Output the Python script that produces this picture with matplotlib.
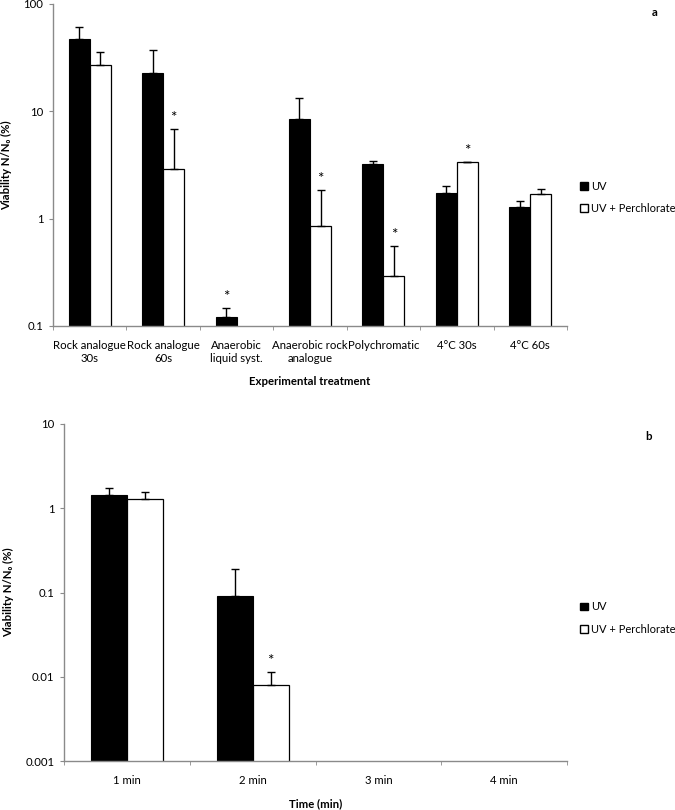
import numpy as np
import matplotlib
matplotlib.use("Agg")
import matplotlib.pyplot as plt
from matplotlib.patches import Patch

plt.rcParams['font.family'] = ['Lato', 'DejaVu Sans']

# Panel a data
CATS_A = ["Rock analogue\n30s", "Rock analogue\n60s", "Anaerobic\nliquid syst.",
          "Anaerobic rock\nanalogue", "Polychromatic", "4°C 30s", "4°C 60s"]
UV_A = [47, 22.6, 0.122, 8.4, 3.2, 1.72, 1.28]
UV_ERR_A = [14, 14.5, 0.026, 4.8, 0.27, 0.31, 0.17]
PERC_A = [26.9, 2.93, np.nan, 0.86, 0.293, 3.34, 1.71]
PERC_ERR_A = [8.7, 3.9, np.nan, 1.0, 0.26, 0.04, 0.2]
STAR_UV_A = [False, False, True, False, False, False, False]
STAR_PERC_A = [False, True, False, True, True, True, False]
YTICKS_A = [0.1, 1, 10, 100]
YTICKLABELS_A = ["0.1", "1", "10", "100"]

# Panel b data
CATS_B = ["1 min", "2 min", "3 min", "4 min"]
UV_B = [1.42, 0.091, np.nan, np.nan]
UV_ERR_B = [0.33, 0.098, np.nan, np.nan]
PERC_B = [1.30, 0.008, np.nan, np.nan]
PERC_ERR_B = [0.27, 0.0034, np.nan, np.nan]
STAR_UV_B = [False, False, False, False]
STAR_PERC_B = [False, True, False, False]
YTICKS_B = [0.001, 0.01, 0.1, 1, 10]
YTICKLABELS_B = ["0.001", "0.01", "0.1", "1", "10"]

AXIS_GREY = "#8a8a8a"
FS = 8.2
BW = 0.286


def draw_panel(ax, cats, uv, uv_err, perc, perc_err, star_uv, star_perc, yticks, yticklabels):
    x = np.arange(len(cats))
    ax.bar(x - BW / 2, uv, BW, color="black", edgecolor="black", linewidth=0.8, zorder=2)
    ax.bar(x + BW / 2, perc, BW, color="white", edgecolor="black", linewidth=0.9, zorder=2)
    zeros = np.zeros(len(cats))
    ax.errorbar(x - BW / 2, uv, yerr=[zeros, uv_err], fmt="none", ecolor="black",
                elinewidth=1, capsize=3, capthick=1, zorder=3)
    ax.errorbar(x + BW / 2, perc, yerr=[zeros, perc_err], fmt="none", ecolor="black",
                elinewidth=1, capsize=3, capthick=1, zorder=3)
    for i in range(len(cats)):
        if star_uv[i]:
            ax.annotate("*", (x[i] - BW / 2, uv[i] + uv_err[i]), xytext=(0, 3),
                        textcoords="offset points", ha="center", va="bottom", fontsize=11)
        if star_perc[i]:
            ax.annotate("*", (x[i] + BW / 2, perc[i] + perc_err[i]), xytext=(0, 3),
                        textcoords="offset points", ha="center", va="bottom", fontsize=11)

    ax.set_yscale("log")
    ax.set_ylim(yticks[0], yticks[-1])
    ax.set_yticks(yticks, yticklabels)
    ax.yaxis.set_minor_locator(matplotlib.ticker.NullLocator())
    ax.set_xlim(-0.5, len(cats) - 0.5)
    ax.set_xticks(x, cats)
    ax.set_xticks(np.arange(len(cats) + 1) - 0.5, minor=True)
    ax.tick_params(axis="x", which="major", length=0, pad=10, labelsize=FS)
    ax.tick_params(axis="x", which="minor", length=3, direction="out", color=AXIS_GREY)
    ax.tick_params(axis="y", length=3, direction="out", color=AXIS_GREY, labelsize=FS, pad=4)
    for s in ["top", "right"]:
        ax.spines[s].set_visible(False)
    for s in ["left", "bottom"]:
        ax.spines[s].set_color(AXIS_GREY)
        ax.spines[s].set_linewidth(1)


fig = plt.figure(figsize=(6.75, 8.1), dpi=100)

ax_a = fig.add_axes([53 / 675, 1 - 326 / 810, 514 / 675, 322 / 810])
draw_panel(ax_a, CATS_A, UV_A, UV_ERR_A, PERC_A, PERC_ERR_A, STAR_UV_A, STAR_PERC_A,
           YTICKS_A, YTICKLABELS_A)
ax_a.set_xlabel("Experimental treatment", fontsize=FS, fontweight="bold")
ax_a.xaxis.set_label_coords(0.5, -0.155)
ax_a.set_ylabel("Viability N/N₀ (%)", fontsize=FS, fontweight="bold")
ax_a.yaxis.set_label_coords(-0.08, 0.5)

ax_b = fig.add_axes([64 / 675, 1 - 761 / 810, 503 / 675, 337 / 810])
draw_panel(ax_b, CATS_B, UV_B, UV_ERR_B, PERC_B, PERC_ERR_B, STAR_UV_B, STAR_PERC_B,
           YTICKS_B, YTICKLABELS_B)
ax_b.set_xlabel("Time (min)", fontsize=FS, fontweight="bold")
ax_b.xaxis.set_label_coords(0.5, -0.11)
ax_b.set_ylabel("Viability N/N₀ (%)", fontsize=FS, fontweight="bold")
ax_b.yaxis.set_label_coords(-0.1, 0.5)

handles = [Patch(facecolor="black", edgecolor="black", label="UV"),
           Patch(facecolor="white", edgecolor="black", label="UV + Perchlorate")]
for ycen in [197.5, 618]:
    fig.legend(handles=handles, loc="center left", bbox_to_anchor=(580 / 675, 1 - ycen / 810),
               frameon=False, fontsize=8, handlelength=0.7, handleheight=0.7,
               handletextpad=0.3, labelspacing=1.0, borderpad=0, borderaxespad=0)

fig.text(655 / 675, 1 - 13 / 810, "a", fontsize=FS, fontweight="bold", ha="center", va="center")
fig.text(649 / 675, 1 - 437 / 810, "b", fontsize=FS, fontweight="bold", ha="center", va="center")

fig.savefig("out.png", dpi=100)
